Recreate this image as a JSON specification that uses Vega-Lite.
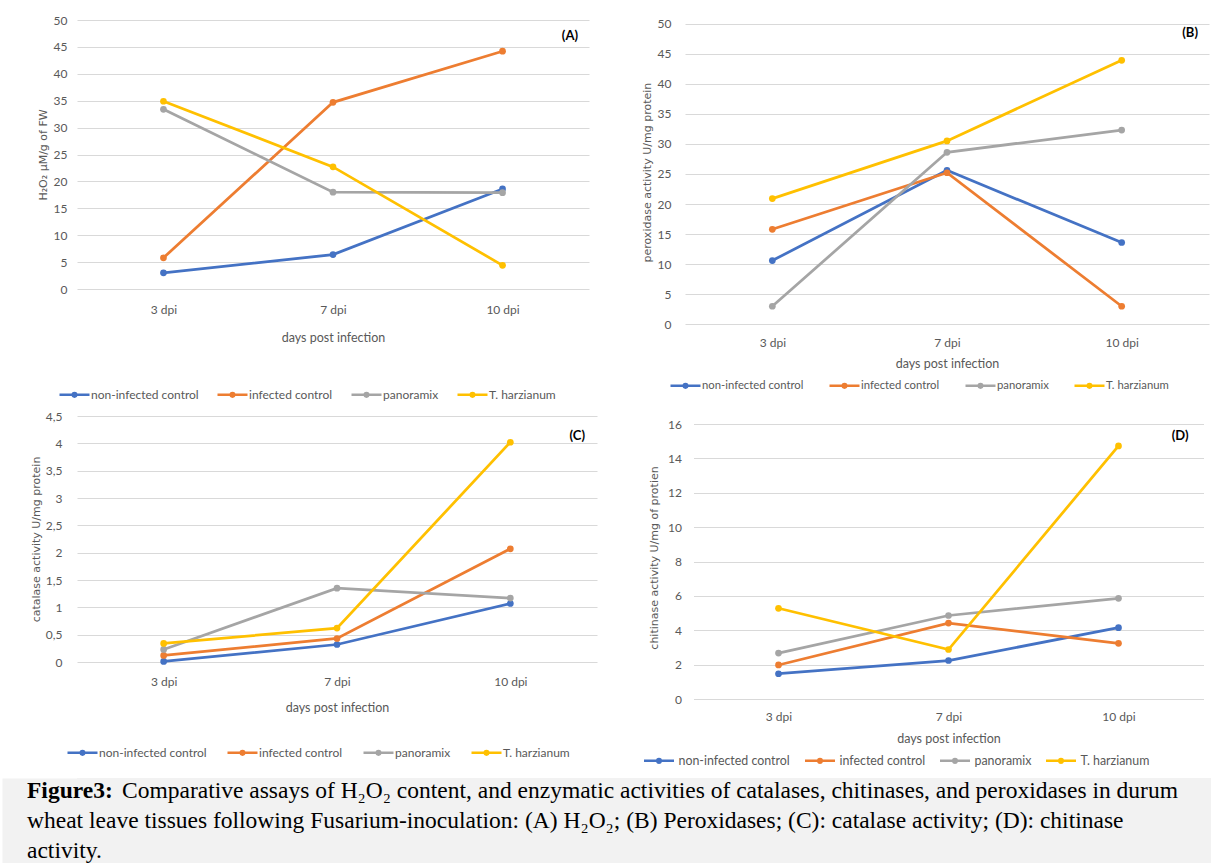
{
  "$schema": "https://vega.github.io/schema/vega-lite/v6.json",
  "background": "white",
  "padding": {"left": 27, "top": 14, "right": 0, "bottom": 0},
  "spacing": 10,
  "datasets": {
    "h2o2": [
      {"day": "3 dpi", "series": "non-infected control", "value": 3.0},
      {"day": "7 dpi", "series": "non-infected control", "value": 6.4},
      {"day": "10 dpi", "series": "non-infected control", "value": 18.6},
      {"day": "3 dpi", "series": "infected control", "value": 5.8},
      {"day": "7 dpi", "series": "infected control", "value": 34.7},
      {"day": "10 dpi", "series": "infected control", "value": 44.2},
      {"day": "3 dpi", "series": "panoramix", "value": 33.4},
      {"day": "7 dpi", "series": "panoramix", "value": 18.0},
      {"day": "10 dpi", "series": "panoramix", "value": 17.9},
      {"day": "3 dpi", "series": "T. harzianum", "value": 34.9},
      {"day": "7 dpi", "series": "T. harzianum", "value": 22.7},
      {"day": "10 dpi", "series": "T. harzianum", "value": 4.4}
    ],
    "peroxidase": [
      {"day": "3 dpi", "series": "non-infected control", "value": 10.6},
      {"day": "7 dpi", "series": "non-infected control", "value": 25.6},
      {"day": "10 dpi", "series": "non-infected control", "value": 13.6},
      {"day": "3 dpi", "series": "infected control", "value": 15.8},
      {"day": "7 dpi", "series": "infected control", "value": 25.2},
      {"day": "10 dpi", "series": "infected control", "value": 3.0},
      {"day": "3 dpi", "series": "panoramix", "value": 3.0},
      {"day": "7 dpi", "series": "panoramix", "value": 28.6},
      {"day": "10 dpi", "series": "panoramix", "value": 32.3},
      {"day": "3 dpi", "series": "T. harzianum", "value": 20.9},
      {"day": "7 dpi", "series": "T. harzianum", "value": 30.5},
      {"day": "10 dpi", "series": "T. harzianum", "value": 43.9}
    ],
    "catalase": [
      {"day": "3 dpi", "series": "non-infected control", "value": 0.01},
      {"day": "7 dpi", "series": "non-infected control", "value": 0.32},
      {"day": "10 dpi", "series": "non-infected control", "value": 1.07},
      {"day": "3 dpi", "series": "infected control", "value": 0.12},
      {"day": "7 dpi", "series": "infected control", "value": 0.43},
      {"day": "10 dpi", "series": "infected control", "value": 2.07},
      {"day": "3 dpi", "series": "panoramix", "value": 0.23},
      {"day": "7 dpi", "series": "panoramix", "value": 1.35},
      {"day": "10 dpi", "series": "panoramix", "value": 1.17},
      {"day": "3 dpi", "series": "T. harzianum", "value": 0.34},
      {"day": "7 dpi", "series": "T. harzianum", "value": 0.62},
      {"day": "10 dpi", "series": "T. harzianum", "value": 4.02}
    ],
    "chitinase": [
      {"day": "3 dpi", "series": "non-infected control", "value": 1.47},
      {"day": "7 dpi", "series": "non-infected control", "value": 2.24},
      {"day": "10 dpi", "series": "non-infected control", "value": 4.15},
      {"day": "3 dpi", "series": "infected control", "value": 1.98},
      {"day": "7 dpi", "series": "infected control", "value": 4.42},
      {"day": "10 dpi", "series": "infected control", "value": 3.24},
      {"day": "3 dpi", "series": "panoramix", "value": 2.67},
      {"day": "7 dpi", "series": "panoramix", "value": 4.86},
      {"day": "10 dpi", "series": "panoramix", "value": 5.86},
      {"day": "3 dpi", "series": "T. harzianum", "value": 5.28},
      {"day": "7 dpi", "series": "T. harzianum", "value": 2.88},
      {"day": "10 dpi", "series": "T. harzianum", "value": 14.73}
    ]
  },
  "resolve": {"scale": {"color": "independent", "x": "independent", "y": "independent"}, "legend": {"color": "independent"}},
  "vconcat": [
    {
      "spacing": 8,
      "resolve": {"scale": {"color": "independent", "x": "independent", "y": "independent"}, "legend": {"color": "independent"}},
      "vconcat": [
        {
          "bounds": "flush",
          "spacing": 96,
          "resolve": {"scale": {"color": "independent", "x": "independent", "y": "independent"}, "legend": {"color": "independent"}},
          "hconcat": [
            {
              "data": {"name": "h2o2"},
              "width": 512,
              "height": 269,
              "title": {"text": "(A)", "anchor": "end", "offset": -29, "dx": -11},
              "mark": {"type": "line", "strokeWidth": 2.75, "point": {"filled": true, "size": 45}},
              "encoding": {
                "x": {"field": "day", "type": "ordinal", "sort": ["3 dpi", "7 dpi", "10 dpi"], "scale": {"type": "point", "padding": 0.51}, "axis": {"title": "days post infection", "labelPadding": 15, "titlePadding": 16}},
                "y": {"field": "value", "type": "quantitative", "scale": {"domain": [0, 50], "nice": false}, "axis": {"title": "H₂O₂ µM/g of FW", "values": [0, 5, 10, 15, 20, 25, 30, 35, 40, 45, 50], "labelPadding": 10, "titlePadding": 5}},
                "color": {"field": "series", "type": "nominal", "sort": ["non-infected control", "infected control", "panoramix", "T. harzianum"], "scale": {"domain": ["non-infected control", "infected control", "panoramix", "T. harzianum"], "range": ["#4472C4", "#ED7D31", "#A5A5A5", "#FFC000"]}, "legend": {"legendX": -19, "legendY": 358, "columnPadding": 13}}
              }
            },
            {
              "data": {"name": "peroxidase"},
              "width": 524,
              "height": 304.3,
              "title": {"text": "(B)", "anchor": "end", "offset": -22, "dx": -11},
              "mark": {"type": "line", "strokeWidth": 2.75, "point": {"filled": true, "size": 45}},
              "encoding": {
                "x": {"field": "day", "type": "ordinal", "sort": ["3 dpi", "7 dpi", "10 dpi"], "scale": {"type": "point", "padding": 0.5}, "axis": {"title": "days post infection", "labelPadding": 13, "titlePadding": 9}},
                "y": {"field": "value", "type": "quantitative", "scale": {"domain": [0, 50.6], "nice": false}, "axis": {"title": "peroxidase activity U/mg protein", "values": [0, 5, 10, 15, 20, 25, 30, 35, 40, 45, 50], "labelPadding": 14, "titlePadding": 5}},
                "color": {"field": "series", "type": "nominal", "sort": ["non-infected control", "infected control", "panoramix", "T. harzianum"], "scale": {"domain": ["non-infected control", "infected control", "panoramix", "T. harzianum"], "range": ["#4472C4", "#ED7D31", "#A5A5A5", "#FFC000"]}, "legend": {"legendX": -16, "legendY": 349, "columnPadding": 20, "labelFontSize": 11.3}}
              }
            }
          ]
        },
        {
          "bounds": "flush",
          "spacing": 96.5,
          "resolve": {"scale": {"color": "independent", "x": "independent", "y": "independent"}, "legend": {"color": "independent"}},
          "hconcat": [
            {
              "data": {"name": "catalase"},
              "width": 520,
              "height": 246,
              "title": {"text": "(C)", "anchor": "end", "offset": -33, "dx": -12},
              "mark": {"type": "line", "strokeWidth": 2.75, "point": {"filled": true, "size": 45}},
              "encoding": {
                "x": {"field": "day", "type": "ordinal", "sort": ["3 dpi", "7 dpi", "10 dpi"], "scale": {"type": "point", "padding": 0.5}, "axis": {"title": "days post infection", "labelPadding": 14, "titlePadding": 14}},
                "y": {"field": "value", "type": "quantitative", "scale": {"domain": [0, 4.5], "nice": false}, "axis": {"title": "catalase activity U/mg protein", "values": [0, 0.5, 1, 1.5, 2, 2.5, 3, 3.5, 4, 4.5], "labelExpr": "replace(format(datum.value, '.1~f'), '.', ',')", "labelPadding": 15, "titlePadding": 4}},
                "color": {"field": "series", "type": "nominal", "sort": ["non-infected control", "infected control", "panoramix", "T. harzianum"], "scale": {"domain": ["non-infected control", "infected control", "panoramix", "T. harzianum"], "range": ["#4472C4", "#ED7D31", "#A5A5A5", "#FFC000"]}, "legend": {"legendX": -11, "legendY": 320, "columnPadding": 15}}
              }
            },
            {
              "data": {"name": "chitinase"},
              "width": 510,
              "height": 283,
              "title": {"text": "(D)", "anchor": "end", "offset": -27, "dx": -15},
              "mark": {"type": "line", "strokeWidth": 2.75, "point": {"filled": true, "size": 45}},
              "encoding": {
                "x": {"field": "day", "type": "ordinal", "sort": ["3 dpi", "7 dpi", "10 dpi"], "scale": {"type": "point", "padding": 0.5}, "axis": {"title": "days post infection", "labelPadding": 12, "titlePadding": 10}},
                "y": {"field": "value", "type": "quantitative", "scale": {"domain": [0, 16.47], "nice": false}, "axis": {"title": "chitinase activity U/mg of protien", "values": [0, 2, 4, 6, 8, 10, 12, 14, 16], "labelPadding": 12, "titlePadding": 8}},
                "color": {"field": "series", "type": "nominal", "sort": ["non-infected control", "infected control", "panoramix", "T. harzianum"], "scale": {"domain": ["non-infected control", "infected control", "panoramix", "T. harzianum"], "range": ["#4472C4", "#ED7D31", "#A5A5A5", "#FFC000"]}, "legend": {"legendX": -51, "legendY": 328, "columnPadding": 9, "labelFontSize": 12.4, "labelOffset": 3}}
              }
            }
          ]
        }
      ]
    },
    {
      "width": 1136,
      "height": 86,
      "view": {"fill": "#f2f2f2", "stroke": null},
      "encoding": {
        "x": {"datum": 0, "type": "quantitative", "scale": {"domain": [0, 1]}, "axis": null},
        "y": {"field": "line", "type": "ordinal", "scale": {"type": "point", "padding": 0.42}, "axis": {"title": null, "labels": false, "ticks": false, "grid": false, "domain": true, "domainColor": "#f2f2f2", "domainWidth": 76, "offset": 37}}
      },
      "layer": [
        {
          "data": {"values": [{"line": 1, "text": "Figure3:"}]},
          "mark": {"type": "text", "font": "Liberation Serif", "fontSize": 23.5, "fontWeight": "bold", "align": "left", "baseline": "middle", "color": "#000000", "dx": -50},
          "encoding": {"text": {"field": "text"}}
        },
        {
          "data": {"values": [{"line": 1, "text": "Comparative assays of H₂O₂ content, and enzymatic activities of catalases, chitinases, and peroxidases in durum"}]},
          "mark": {"type": "text", "font": "Liberation Serif", "fontSize": 23.5, "align": "left", "baseline": "middle", "color": "#000000", "dx": 45},
          "encoding": {"text": {"field": "text"}}
        },
        {
          "data": {"values": [
            {"line": 2, "text": "wheat leave tissues following Fusarium-inoculation: (A) H₂O₂; (B) Peroxidases; (C): catalase activity; (D): chitinase"},
            {"line": 3, "text": "activity."}
          ]},
          "mark": {"type": "text", "font": "Liberation Serif", "fontSize": 23.5, "align": "left", "baseline": "middle", "color": "#000000", "dx": -50},
          "encoding": {"text": {"field": "text"}}
        }
      ]
    }
  ],
  "config": {
    "view": {"stroke": null},
    "axis": {
      "labelFont": "Lato", "labelFontSize": 12, "labelColor": "#595959",
      "titleFont": "DejaVu Sans", "titleFontSize": 11, "titleFontWeight": "normal", "titleColor": "#595959",
      "domain": false, "ticks": false, "tickSize": 0,
      "gridColor": "#d9d9d9", "gridWidth": 1
    },
    "axisX": {"grid": false, "labelAngle": 0, "titleFont": "Lato", "titleFontSize": 12.5},
    "axisY": {"grid": true},
    "legend": {
      "orient": "none", "direction": "horizontal", "title": null,
      "symbolType": "M-1,0L1,0M0.12,0A0.12,0.12,0,1,1,-0.12,0A0.12,0.12,0,1,1,0.12,0",
      "symbolSize": 900, "symbolStrokeWidth": 2.5,
      "labelFont": "Lato", "labelFontSize": 12, "labelColor": "#595959",
      "labelOffset": 0, "columnPadding": 18, "padding": 0
    },
    "title": {"font": "Lato", "fontSize": 13, "fontWeight": "bold", "color": "#000000"}
  }
}
